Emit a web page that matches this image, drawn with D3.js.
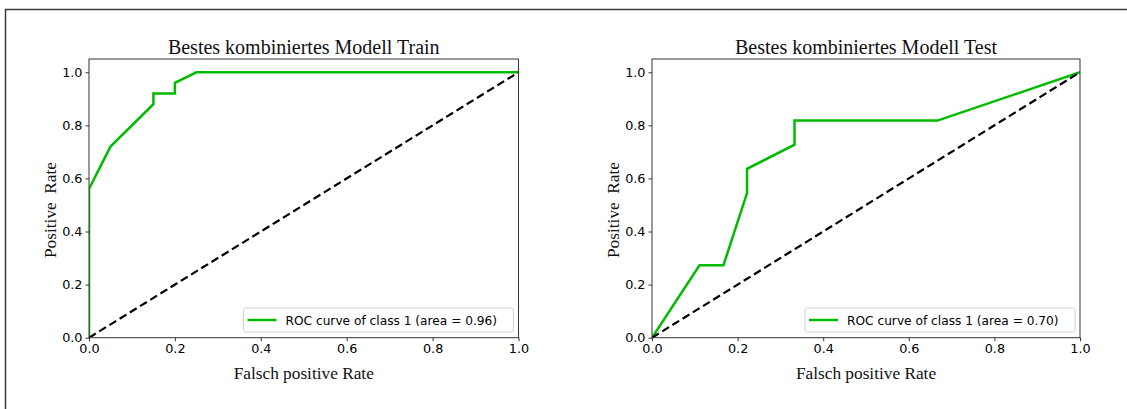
<!DOCTYPE html>
<html>
<head>
<meta charset="utf-8">
<script src="https://cdn.jsdelivr.net/npm/d3@7"></script>
<style>
  body { margin: 0; background: #fff; }
  svg { display: block; }
</style>
</head>
<body>
<svg id="chart" width="1127" height="409"></svg>
<script>
// ROC points
const trainFpr = [0, 0, 0.05, 0.15, 0.15, 0.2, 0.2, 0.25, 1];
const trainTpr = [0, 0.56, 0.72, 0.88, 0.92, 0.92, 0.96, 1, 1];
const testFpr = [0, 0.111, 0.167, 0.222, 0.222, 0.333, 0.333, 0.667, 1];
const testTpr = [0, 0.273, 0.273, 0.545, 0.636, 0.727, 0.818, 0.818, 1];
const ticks = [0, 0.2, 0.4, 0.6, 0.8, 1.0];
const titles = ["Bestes kombiniertes Modell Train", "Bestes kombiniertes Modell Test"];
const legendLabels = ["ROC curve of class 1 (area = 0.96)", "ROC curve of class 1 (area = 0.70)"];

const svg = d3.select("#chart");
const sans = "DejaVu Sans, sans-serif";
const serif = "Liberation Serif, Times New Roman, serif";

// outer frame (right/bottom edges are cut off in the picture)
svg.append("rect")
  .attr("x", 5.5).attr("y", 9.5)
  .attr("width", 1200).attr("height", 500)
  .attr("fill", "none")
  .attr("stroke", "#3a3a3a")
  .attr("stroke-width", 1.5);

function drawPanel(idx, left, right, fpr, tpr) {
  const top = 59, bottom = 337.7;
  const x = d3.scaleLinear().domain([0, 1]).range([left, right]);
  const y = d3.scaleLinear().domain([0, 1.05]).range([bottom, top]);
  const g = svg.append("g");

  const clipId = "clip" + idx;
  g.append("clipPath").attr("id", clipId)
    .append("rect")
    .attr("x", left).attr("y", top)
    .attr("width", right - left).attr("height", bottom - top);

  const pts = fpr.map((f, i) => [f, tpr[i]]);
  const line = d3.line().x(d => x(d[0])).y(d => y(d[1]));

  g.append("path")
    .datum(pts)
    .attr("clip-path", `url(#${clipId})`)
    .attr("d", line)
    .attr("fill", "none")
    .attr("stroke", "#00bb00")
    .attr("stroke-width", 2.5)
    .attr("stroke-linejoin", "miter");

  g.append("path")
    .datum([[0, 0], [1, 1]])
    .attr("clip-path", `url(#${clipId})`)
    .attr("d", line)
    .attr("fill", "none")
    .attr("stroke", "#000")
    .attr("stroke-width", 2.2)
    .attr("stroke-dasharray", "8,4");

  // axes
  const xAxis = g.append("g")
    .attr("transform", `translate(0,${bottom})`)
    .call(d3.axisBottom(x).tickValues(ticks).tickFormat(d3.format(".1f")).tickSizeOuter(0).tickSize(3.5).tickPadding(3));
  const yAxis = g.append("g")
    .attr("transform", `translate(${left},0)`)
    .call(d3.axisLeft(y).tickValues(ticks).tickFormat(d3.format(".1f")).tickSizeOuter(0).tickSize(3.5).tickPadding(3));
  [xAxis, yAxis].forEach(a => {
    a.select(".domain").remove();
    a.selectAll("line").attr("stroke", "#000").attr("stroke-width", 0.8);
    a.selectAll("text").attr("fill", "#000").style("font-family", sans).style("font-size", "12.8px");
  });

  g.append("rect")
    .attr("x", left).attr("y", top)
    .attr("width", right - left).attr("height", bottom - top)
    .attr("fill", "none")
    .attr("stroke", "#333")
    .attr("stroke-width", 1);

  // title and labels
  g.append("text")
    .attr("x", (left + right) / 2).attr("y", 54)
    .attr("text-anchor", "middle")
    .style("font-family", serif).style("font-size", "20px")
    .attr("fill", "#111")
    .text(titles[idx]);

  g.append("text")
    .attr("x", (left + right) / 2).attr("y", 379)
    .attr("text-anchor", "middle")
    .style("font-family", serif).style("font-size", "17.3px")
    .attr("fill", "#111")
    .text("Falsch positive Rate");

  g.append("text")
    .attr("transform", `translate(${left - 33},210) rotate(-90)`)
    .attr("text-anchor", "middle")
    .style("font-family", serif).style("font-size", "17.3px")
    .attr("fill", "#111")
    .text("Positive  Rate")
    .style("white-space", "pre");

  // legend
  const lw = 270, lh = 24;
  const lx = right - 5 - lw, ly = 308;
  const lg = g.append("g");
  lg.append("rect")
    .attr("x", lx).attr("y", ly)
    .attr("width", lw).attr("height", lh)
    .attr("rx", 2.5)
    .attr("fill", "rgba(255,255,255,0.8)")
    .attr("stroke", "#d0d0d0")
    .attr("stroke-width", 1);
  lg.append("line")
    .attr("x1", lx + 4).attr("x2", lx + 33)
    .attr("y1", ly + lh / 2).attr("y2", ly + lh / 2)
    .attr("stroke", "#00bb00").attr("stroke-width", 2.5);
  lg.append("text")
    .attr("x", lx + 42).attr("y", ly + lh / 2 + 4.5)
    .style("font-family", sans).style("font-size", "12.2px")
    .attr("fill", "#000")
    .text(legendLabels[idx]);
}

drawPanel(0, 89, 518.5, trainFpr, trainTpr);
drawPanel(1, 652, 1080, testFpr, testTpr);
</script>
</body>
</html>
